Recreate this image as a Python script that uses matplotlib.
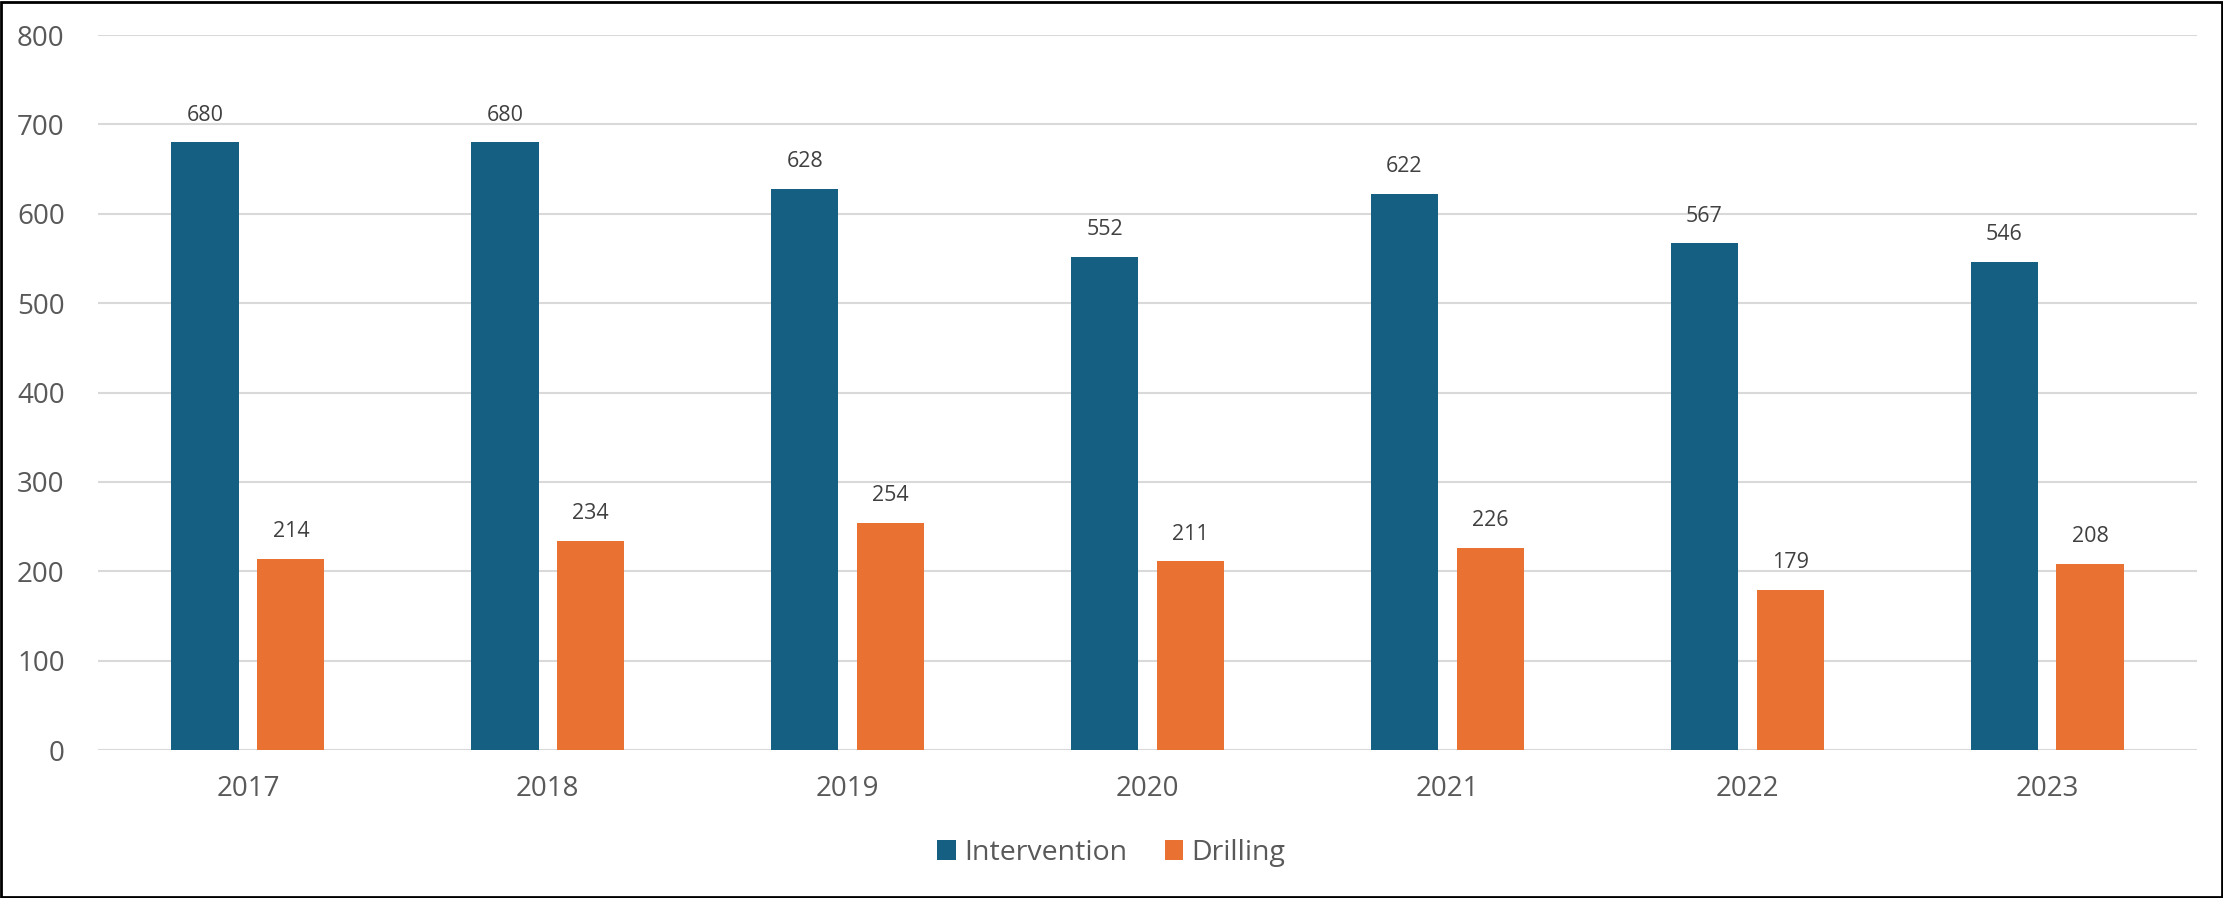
import matplotlib
matplotlib.use("Agg")
import matplotlib.pyplot as plt
from matplotlib.patches import Rectangle
import numpy as np

plt.rcParams['font.family'] = ['Open Sans', 'DejaVu Sans']

years = ["2017", "2018", "2019", "2020", "2021", "2022", "2023"]
intervention = [680, 680, 628, 552, 622, 567, 546]
drilling = [214, 234, 254, 211, 226, 179, 208]
series_names = ["Intervention", "Drilling"]
colors = ["#156082", "#E97132"]
text_color = "#595959"

fig = plt.figure(figsize=(22.23, 8.98), dpi=100)
ax = fig.add_axes([0.0441, 0.1648, 0.9442, 0.7962])

x = np.arange(len(years))
w = 0.224
off = 0.143
b1 = ax.bar(x - off, intervention, w, color=colors[0], label=series_names[0], zorder=3)
b2 = ax.bar(x + off, drilling, w, color=colors[1], label=series_names[1], zorder=3)

for bars, vals in ((b1, intervention), (b2, drilling)):
    for r, v in zip(bars, vals):
        ax.annotate(str(v), (r.get_x() + r.get_width() / 2, v), xytext=(0, 12),
                    textcoords="offset points", ha="center", va="bottom",
                    fontsize=15.5, color="#404040")

ax.set_xlim(-0.5, len(years) - 0.5)
ax.set_ylim(0, 800)
ax.set_yticks(range(0, 801, 100))
ax.set_xticks(x)
ax.set_xticklabels(years)
ax.yaxis.grid(True, color="#D9D9D9", linewidth=1.5, zorder=0)
ax.set_axisbelow(True)
for s in ax.spines.values():
    s.set_visible(False)
ax.tick_params(axis="both", length=0, labelsize=20, labelcolor=text_color)
ax.tick_params(axis="y", pad=24)
ax.tick_params(axis="x", pad=18)

leg = fig.legend(handles=[b1, b2], labels=series_names, loc="center",
                 bbox_to_anchor=(0.5, 1 - 853 / 898), ncol=2, frameon=False,
                 fontsize=20.5, handlelength=0.65, handleheight=0.65,
                 handletextpad=0.3, columnspacing=1.3, labelcolor=text_color)

fig.patches.append(Rectangle((0.0005, 0.001), 0.999, 0.997, transform=fig.transFigure,
                             fill=False, edgecolor="black", linewidth=2))

fig.savefig("out.png", dpi=100)
